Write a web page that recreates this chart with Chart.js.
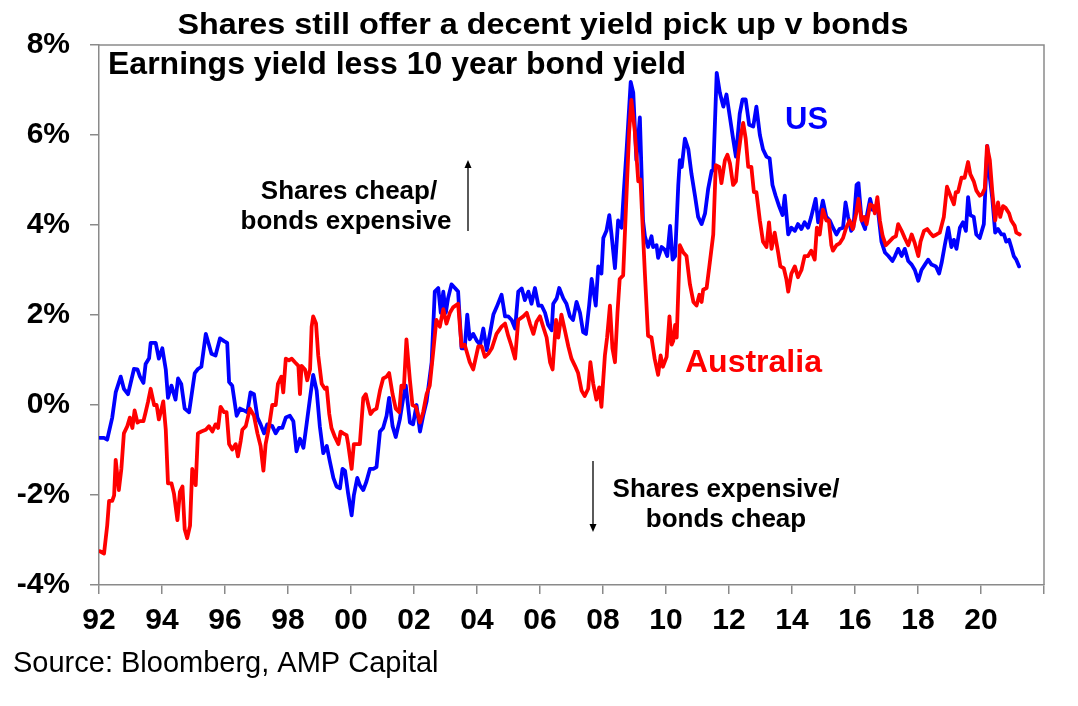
<!DOCTYPE html>
<html>
<head>
<meta charset="utf-8">
<script src="https://cdn.jsdelivr.net/npm/chart.js@4.4.1/dist/chart.umd.min.js"></script>
<style>
  html, body { margin: 0; padding: 0; background: #ffffff; }
  #wrap { width: 1078px; height: 706px; position: relative; }
  canvas { display: block; }
</style>
</head>
<body>
<div id="wrap"><canvas id="c" width="1078" height="706"></canvas></div>
<script>
// ---------- DATA ----------
const titleText = 'Shares still offer a decent yield pick up v bonds';
const subtitleText = 'Earnings yield less 10 year bond yield';
const sourceText = 'Source: Bloomberg, AMP Capital';
const seriesNames = ['Australia', 'US'];
const xTickYears = [1992, 2022];   // axis range, ticks every 2 years
const yTickRange = [-4, 8];         // percent

const usDates = [
  1992.03,1992.16,1992.26,1992.42,1992.53,1992.69,1992.79,1992.92,
  1993.11,1993.22,1993.30,1993.41,1993.48,1993.59,1993.64,1993.80,1993.90,
  1994.01,1994.12,1994.19,1994.30,1994.43,1994.51,1994.61,1994.72,1994.86,1994.96,
  1995.04,1995.14,1995.25,1995.39,1995.49,1995.57,1995.70,1995.84,1995.97,
  1996.07,1996.13,1996.23,1996.37,1996.48,1996.60,1996.71,1996.81,1996.92,
  1997.03,1997.13,1997.24,1997.34,1997.50,1997.61,1997.71,1997.82,1997.93,
  1998.06,1998.17,1998.27,1998.38,1998.49,1998.59,1998.70,1998.80,1998.91,
  1999.01,1999.12,1999.23,1999.33,1999.44,1999.54,1999.65,1999.73,1999.81,1999.91,
  2000.02,2000.09,2000.20,2000.28,2000.39,2000.49,2000.60,2000.71,2000.81,2000.92,
  2001.02,2001.13,2001.21,2001.32,2001.42,2001.55,2001.66,2001.74,2001.87,2001.97,
  2002.08,2002.19,2002.29,2002.40,2002.56,2002.66,2002.77,2002.85,2002.93,
  2003.01,2003.08,2003.19,2003.30,2003.40,2003.51,2003.61,2003.69,2003.77,2003.88,
  2004.00,2004.10,2004.20,2004.31,2004.41,2004.52,2004.62,2004.78,2004.89,2004.99,
  2005.10,2005.21,2005.31,2005.42,2005.52,2005.63,2005.73,2005.84,2005.95,
  2006.05,2006.16,2006.26,2006.37,2006.42,2006.53,2006.61,2006.74,2006.84,2006.95,
  2007.05,2007.16,2007.27,2007.37,2007.46,2007.56,2007.64,2007.77,2007.85,2007.95,
  2008.01,2008.11,2008.20,2008.27,2008.38,2008.48,2008.59,2008.66,2008.75,2008.88,2008.96,
  2009.06,2009.17,2009.22,2009.27,2009.33,2009.43,2009.54,2009.59,2009.70,2009.75,2009.86,2009.96,
  2010.04,2010.13,2010.21,2010.29,2010.39,2010.44,2010.50,2010.60,2010.71,2010.81,2010.92,
  2011.02,2011.13,2011.24,2011.34,2011.45,2011.50,2011.61,2011.71,2011.82,2011.92,
  2012.03,2012.13,2012.22,2012.34,2012.43,2012.53,2012.64,2012.77,2012.87,2012.98,
  2013.08,2013.19,2013.29,2013.38,2013.48,2013.59,2013.70,2013.77,2013.88,2013.98,
  2014.09,2014.19,2014.30,2014.40,2014.51,2014.61,2014.75,2014.83,2014.88,2014.98,
  2015.09,2015.20,2015.30,2015.41,2015.51,2015.62,2015.70,2015.78,2015.88,2015.95,
  2016.05,2016.11,2016.21,2016.32,2016.39,2016.48,2016.56,2016.67,2016.74,2016.84,2016.95,
  2017.06,2017.19,2017.27,2017.37,2017.48,2017.58,2017.69,2017.80,2017.90,
  2018.01,2018.11,2018.22,2018.32,2018.43,2018.57,2018.67,2018.75,2018.85,2018.96,
  2019.06,2019.14,2019.22,2019.33,2019.43,2019.52,2019.59,2019.66,2019.77,2019.85,2019.96,
  2020.09,2020.20,2020.28,2020.36,2020.45,2020.54,2020.65,2020.73,2020.80,2020.89,2020.96,
  2021.04,2021.12,2021.21
];
const usValues = [
  -0.73,-0.73,-0.77,-0.28,0.28,0.63,0.36,0.24,
  0.80,0.79,0.63,0.49,0.91,1.04,1.38,1.38,1.03,
  1.26,0.79,0.16,0.43,0.12,0.59,0.47,-0.08,-0.16,0.32,
  0.71,0.80,0.85,1.58,1.34,1.14,1.10,1.48,1.42,
  1.38,0.51,0.43,-0.24,-0.08,-0.12,-0.16,0.28,0.24,
  -0.28,-0.43,-0.63,-0.43,-0.47,-0.63,-0.51,-0.51,-0.28,
  -0.24,-0.36,-1.03,-0.75,-0.95,-0.43,0.16,0.67,0.32,
  -0.47,-1.07,-0.91,-1.26,-1.62,-1.81,-1.85,-1.42,-1.46,-1.97,
  -2.45,-2.01,-1.62,-1.78,-1.89,-1.70,-1.42,-1.42,-1.38,-0.59,
  -0.51,-0.24,0.16,-0.47,-0.71,-0.32,0.16,0.43,-0.39,-0.43,
  0.00,-0.59,-0.24,0.08,0.95,2.52,2.60,2.05,2.52,
  2.05,2.37,2.68,2.60,2.52,1.26,1.26,2.01,1.46,1.58,
  1.42,1.34,1.70,1.22,1.58,2.01,2.17,2.45,1.97,1.97,
  1.89,1.70,2.52,2.59,2.33,2.52,2.25,2.60,2.21,
  2.21,2.05,1.78,1.66,2.25,2.37,2.60,2.37,2.25,1.97,
  1.89,2.29,2.05,1.62,1.58,2.21,2.80,2.21,3.08,2.92,
  3.71,3.87,4.22,3.79,3.04,4.10,3.94,4.73,5.68,7.18,6.94,
  5.44,6.39,5.25,4.10,3.75,3.51,3.75,3.51,3.55,3.27,3.51,3.45,
  3.31,3.98,3.23,3.31,4.89,5.44,5.29,5.92,5.68,5.13,4.65,
  4.18,4.02,4.26,4.81,5.21,5.21,7.38,6.94,6.63,6.90,
  6.39,5.92,5.52,6.47,6.79,6.79,6.23,6.19,6.63,6.00,
  5.68,5.52,5.48,4.89,4.65,4.42,4.22,4.65,3.79,3.94,
  3.87,4.02,3.91,4.06,3.94,4.18,4.58,4.06,4.18,4.54,
  4.18,4.10,3.94,3.79,3.91,3.94,4.50,4.18,3.87,3.95,
  4.89,4.93,4.10,3.91,4.26,4.58,4.34,4.42,4.26,3.63,3.39,
  3.31,3.20,3.31,3.47,3.31,3.47,3.20,3.12,3.00,
  2.76,3.00,3.12,3.23,3.12,3.08,2.92,3.16,3.55,3.94,
  3.51,3.67,3.47,3.94,4.06,3.87,4.62,4.22,4.18,3.79,3.71,
  4.02,5.76,5.05,4.58,3.83,3.91,3.79,3.79,3.63,3.67,3.51,
  3.31,3.23,3.08
];

const ausDates = [
  1992.03,1992.16,1992.26,1992.32,1992.42,1992.48,1992.53,1992.63,1992.71,1992.79,1992.90,1992.98,
  1993.06,1993.13,1993.22,1993.30,1993.41,1993.48,1993.56,1993.64,1993.75,1993.83,1993.90,1993.96,
  1994.04,1994.12,1994.19,1994.30,1994.38,1994.49,1994.57,1994.65,1994.72,1994.80,1994.89,1994.96,
  1995.07,1995.14,1995.25,1995.39,1995.49,1995.60,1995.70,1995.78,1995.86,1995.97,
  1996.05,1996.13,1996.23,1996.34,1996.41,1996.50,1996.55,1996.66,1996.79,1996.92,
  1997.03,1997.13,1997.22,1997.29,1997.40,1997.50,1997.61,1997.68,1997.79,1997.85,1997.93,
  1998.03,1998.12,1998.22,1998.33,1998.38,1998.43,1998.54,1998.61,1998.70,1998.75,1998.80,1998.89,1998.96,
  1999.07,1999.17,1999.23,1999.31,1999.38,1999.49,1999.60,1999.67,1999.75,1999.86,1999.91,
  2000.02,2000.09,2000.18,2000.28,2000.39,2000.47,2000.55,2000.62,2000.71,2000.81,2000.92,
  2001.02,2001.13,2001.21,2001.32,2001.42,2001.53,2001.60,2001.68,2001.76,2001.87,2001.95,
  2002.06,2002.19,2002.29,2002.40,2002.50,2002.61,2002.71,2002.82,2002.93,
  2003.03,2003.14,2003.24,2003.40,2003.51,2003.61,2003.77,2003.88,
  2004.04,2004.15,2004.25,2004.36,2004.47,2004.62,2004.78,2004.89,2004.99,
  2005.10,2005.21,2005.31,2005.47,2005.58,2005.68,2005.79,2005.89,
  2006.00,2006.10,2006.21,2006.32,2006.40,2006.51,2006.58,2006.68,2006.79,2006.90,
  2007.00,2007.11,2007.21,2007.32,2007.42,2007.53,2007.60,2007.69,2007.79,2007.88,2007.95,
  2008.06,2008.13,2008.22,2008.30,2008.38,2008.46,2008.53,2008.64,2008.75,2008.83,2008.90,
  2009.01,2009.12,2009.19,2009.25,2009.33,2009.43,2009.54,2009.64,2009.75,2009.83,2009.90,
  2010.02,2010.11,2010.18,2010.23,2010.29,2010.34,2010.44,2010.55,2010.65,2010.76,2010.87,2010.97,
  2011.06,2011.13,2011.18,2011.29,2011.39,2011.50,2011.58,2011.69,2011.76,2011.87,2011.95,
  2012.03,2012.13,2012.22,2012.29,2012.38,2012.45,2012.53,2012.61,2012.71,2012.79,2012.87,2012.98,
  2013.08,2013.19,2013.27,2013.35,2013.45,2013.56,2013.63,2013.74,2013.82,2013.88,2013.98,
  2014.09,2014.19,2014.30,2014.40,2014.51,2014.61,2014.72,2014.79,2014.88,2014.98,
  2015.09,2015.17,2015.25,2015.30,2015.41,2015.51,2015.62,2015.72,2015.83,2015.93,
  2016.04,2016.11,2016.21,2016.29,2016.37,2016.48,2016.58,2016.63,2016.71,2016.79,2016.88,2016.98,
  2017.09,2017.21,2017.30,2017.37,2017.48,2017.58,2017.69,2017.80,2017.90,
  2018.01,2018.08,2018.19,2018.29,2018.38,2018.48,2018.59,2018.69,2018.82,2018.92,
  2019.03,2019.14,2019.20,2019.27,2019.38,2019.48,2019.59,2019.66,2019.77,2019.85,2019.96,
  2020.04,2020.12,2020.19,2020.28,2020.36,2020.45,2020.54,2020.61,2020.70,2020.78,2020.89,2020.96,
  2021.07,2021.12,2021.23
];
const ausValues = [
  -3.25,-3.30,-2.68,-2.13,-2.13,-2.01,-1.22,-1.89,-1.42,-0.63,-0.47,-0.28,
  -0.51,-0.12,-0.39,-0.36,-0.36,-0.16,0.08,0.36,0.00,0.00,-0.32,-0.16,
  0.08,-0.55,-1.74,-1.74,-1.97,-2.56,-1.93,-1.81,-2.76,-2.96,-2.68,-1.42,
  -1.78,-0.63,-0.59,-0.55,-0.47,-0.59,-0.43,-0.51,-0.04,-0.16,
  -0.16,-0.87,-0.99,-0.87,-1.14,-0.79,-0.55,-0.47,-0.08,-0.24,
  -0.63,-0.91,-1.46,-0.87,-0.47,0.00,0.00,0.47,0.63,0.28,1.03,
  0.99,1.03,0.95,0.87,0.24,0.87,0.79,0.55,0.79,1.74,1.97,1.81,1.10,
  0.47,0.36,0.39,-0.20,-0.51,-0.71,-0.87,-0.59,-0.63,-0.67,-0.87,
  -1.42,-0.87,-0.87,-0.87,0.16,0.24,0.00,-0.20,-0.12,-0.08,0.32,
  0.59,0.63,0.71,0.24,-0.08,-0.16,0.43,0.39,1.46,0.55,0.00,
  -0.04,-0.39,-0.16,0.24,0.43,1.18,1.89,1.74,2.13,
  1.81,2.05,2.17,2.25,1.30,1.34,0.95,0.79,
  1.30,1.30,1.07,1.14,1.26,1.58,1.74,1.81,1.54,
  1.30,1.03,1.89,1.97,2.05,1.81,1.58,1.85,
  1.97,1.74,1.50,0.95,0.79,1.89,1.50,2.01,1.66,1.30,
  1.03,0.87,0.71,0.32,0.20,0.36,0.95,0.47,0.12,0.39,-0.04,
  1.10,1.50,2.21,1.26,0.95,2.05,2.80,2.88,4.73,6.08,6.78,
  6.08,4.97,5.01,4.10,2.92,1.54,1.50,1.03,0.67,1.10,0.85,
  1.07,1.97,1.34,1.42,1.78,1.50,3.55,3.39,3.31,2.68,2.29,2.21,
  2.45,2.29,2.56,2.60,3.16,3.79,5.33,5.29,4.93,5.44,5.56,
  5.37,4.89,4.97,5.52,6.00,6.27,5.92,5.29,5.29,4.73,4.73,4.10,
  3.63,3.51,4.06,3.47,3.83,3.39,3.08,3.04,2.80,2.52,2.92,
  3.08,2.84,3.00,3.31,3.31,3.43,3.23,3.94,3.79,4.34,
  4.10,4.10,3.55,3.43,3.55,3.59,3.71,3.94,4.10,3.91,
  4.26,4.58,4.10,4.18,4.02,4.46,4.42,4.26,4.62,4.10,3.75,3.55,
  3.63,3.72,3.75,4.02,3.87,3.71,3.55,3.79,3.59,
  3.31,3.63,3.87,3.91,3.83,3.75,3.79,3.83,4.18,4.85,
  4.65,4.46,4.73,4.73,5.05,5.05,5.40,5.13,4.97,4.77,4.65,
  4.69,4.81,5.76,5.44,4.73,4.10,4.50,4.18,4.42,4.38,4.26,4.10,
  3.98,3.83,3.79
];

if (usDates.length !== usValues.length) throw new Error('US length mismatch ' + usDates.length + ' vs ' + usValues.length);
if (ausDates.length !== ausValues.length) throw new Error('AUS length mismatch ' + ausDates.length + ' vs ' + ausValues.length);

// ---------- STYLE ----------
const FONT = "'Liberation Sans', Arial, Helvetica, sans-serif";
const AXIS_GREY = '#8a8a8a';
const BLUE = '#0000ff';
const RED = '#ff0000';

const framePlugin = {
  id: 'frame',
  beforeDatasetsDraw(chart) {
    const a = chart.chartArea, ctx = chart.ctx;
    ctx.save();
    ctx.strokeStyle = AXIS_GREY;
    ctx.lineWidth = 1.5;
    ctx.beginPath();
    ctx.moveTo(a.left, a.top);
    ctx.lineTo(a.right, a.top);
    ctx.lineTo(a.right, a.bottom);
    ctx.stroke();
    ctx.restore();
  }
};

function arrow(ctx, x, y1, y2) {
  const dir = y2 > y1 ? 1 : -1;
  ctx.beginPath();
  ctx.moveTo(x, y1);
  ctx.lineTo(x, y2 - dir * 6);
  ctx.stroke();
  ctx.beginPath();
  ctx.moveTo(x, y2);
  ctx.lineTo(x - 3.5, y2 - dir * 8);
  ctx.lineTo(x + 3.5, y2 - dir * 8);
  ctx.closePath();
  ctx.fill();
}

function fitText(ctx, text, cx, baseline, width) {
  const w = ctx.measureText(text).width;
  ctx.save();
  ctx.translate(cx, baseline);
  ctx.scale(width / w, 1);
  ctx.textAlign = 'center';
  ctx.fillText(text, 0, 0);
  ctx.restore();
}

const textPlugin = {
  id: 'texts',
  afterDraw(chart) {
    const ctx = chart.ctx;
    ctx.save();
    ctx.fillStyle = '#000';
    ctx.textBaseline = 'alphabetic';

    // title
    ctx.font = 'bold 30px ' + FONT;
    fitText(ctx, titleText, 543, 34, 731);

    // subtitle
    ctx.font = 'bold 32px ' + FONT;
    ctx.textAlign = 'left';
    ctx.fillText(subtitleText, 108, 74);

    // annotations
    ctx.font = 'bold 26px ' + FONT;
    ctx.textAlign = 'center';
    ctx.fillText('Shares cheap/', 349, 199);
    ctx.fillText('bonds expensive', 346, 229);
    ctx.fillText('Shares expensive/', 726, 497);
    ctx.fillText('bonds cheap', 726, 527);

    ctx.strokeStyle = '#000';
    ctx.fillStyle = '#000';
    ctx.lineWidth = 1.3;
    arrow(ctx, 468, 231, 160);
    arrow(ctx, 593, 461, 532);

    // series labels
    ctx.textAlign = 'left';
    ctx.font = 'bold 31px ' + FONT;
    ctx.fillStyle = BLUE;
    ctx.fillText(seriesNames[1], 785, 129);
    ctx.fillStyle = RED;
    ctx.font = 'bold 32px ' + FONT;
    ctx.fillText(seriesNames[0], 685, 372);

    // source
    ctx.fillStyle = '#000';
    ctx.font = '29px ' + FONT;
    ctx.fillText(sourceText, 13, 672);
    ctx.restore();
  }
};

const gridOpts = {
  display: true,
  drawOnChartArea: false,
  drawTicks: true,
  tickLength: 9,
  color: AXIS_GREY,
  lineWidth: 1.5
};
const borderOpts = { display: true, color: AXIS_GREY, width: 1.5 };

new Chart(document.getElementById('c').getContext('2d'), {
  type: 'line',
  data: {
    datasets: [
      {
        label: seriesNames[0],
        data: ausDates.map((d, i) => ({ x: d, y: ausValues[i] })),
        borderColor: RED,
        backgroundColor: RED,
        borderWidth: 3.8,
        pointRadius: 0,
        tension: 0,
        fill: false,
        borderJoinStyle: 'round',
        borderCapStyle: 'round'
      },
      {
        label: seriesNames[1],
        data: usDates.map((d, i) => ({ x: d, y: usValues[i] })),
        borderColor: BLUE,
        backgroundColor: BLUE,
        borderWidth: 3.8,
        pointRadius: 0,
        tension: 0,
        fill: false,
        borderJoinStyle: 'round',
        borderCapStyle: 'round'
      }
    ]
  },
  options: {
    responsive: false,
    animation: false,
    devicePixelRatio: 1,
    layout: { padding: { left: 0, right: 34, top: 45, bottom: 0 } },
    plugins: { legend: { display: false }, tooltip: { enabled: false }, title: { display: false } },
    scales: {
      x: {
        type: 'linear',
        min: xTickYears[0],
        max: xTickYears[1],
        afterFit(s) { s.height = 121; },
        ticks: {
          stepSize: 2,
          autoSkip: false,
          maxRotation: 0,
          minRotation: 0,
          padding: 9,
          color: '#000',
          font: { family: FONT, size: 30, weight: 'bold' },
          callback: (v) => (v >= xTickYears[1] ? '' : String(v).slice(2))
        },
        grid: gridOpts,
        border: borderOpts
      },
      y: {
        min: yTickRange[0],
        max: yTickRange[1],
        afterFit(s) { s.width = 99; },
        ticks: {
          stepSize: 2,
          padding: 20,
          color: '#000',
          font: { family: FONT, size: 30, weight: 'bold' },
          callback: (v) => v + '%'
        },
        grid: gridOpts,
        border: borderOpts
      }
    }
  },
  plugins: [framePlugin, textPlugin]
});
</script>
</body>
</html>
